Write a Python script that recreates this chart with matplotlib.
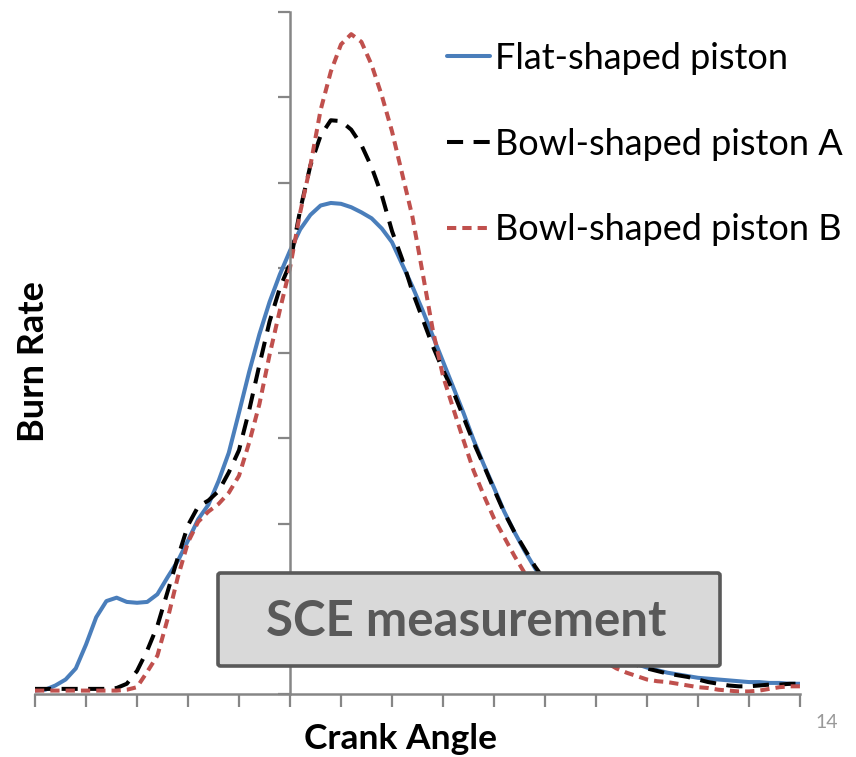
import matplotlib.pyplot as plt
from matplotlib.patches import FancyBboxPatch

# crank angle (deg) and burn rate (arbitrary units)
crank_angle = list(range(-25, 51))

flat_piston = [0.04, 0.05, 0.1, 0.17, 0.3, 0.58, 0.9, 1.09, 1.13, 1.08,
               1.07, 1.08, 1.17, 1.37, 1.56, 1.8, 2.05, 2.22, 2.5, 2.83,
               3.3, 3.78, 4.22, 4.6, 4.92, 5.2, 5.45, 5.62, 5.73, 5.76,
               5.75, 5.71, 5.65, 5.58, 5.46, 5.3, 5.04, 4.78, 4.5, 4.2,
               3.9, 3.6, 3.3, 2.98, 2.69, 2.42, 2.14, 1.9, 1.68, 1.48,
               1.3, 1.13, 0.98, 0.85, 0.73, 0.62, 0.53, 0.46, 0.4, 0.35,
               0.31, 0.28, 0.25, 0.23, 0.21, 0.19, 0.18, 0.17, 0.16, 0.15,
               0.14, 0.14, 0.13, 0.13, 0.12, 0.12]

bowl_piston_a = [0.06, 0.06, 0.06, 0.06, 0.06, 0.06, 0.06, 0.06, 0.07, 0.12,
                 0.27, 0.51, 0.8, 1.2, 1.6, 1.98, 2.2, 2.27, 2.38, 2.6,
                 2.86, 3.33, 3.86, 4.37, 4.76, 5.05, 5.68, 6.2, 6.55, 6.73,
                 6.72, 6.62, 6.44, 6.18, 5.85, 5.43, 5.1, 4.72, 4.4, 4.08,
                 3.8, 3.55, 3.25, 2.95, 2.68, 2.4, 2.13, 1.9, 1.7, 1.5,
                 1.33, 1.16, 1.0, 0.86, 0.73, 0.62, 0.53, 0.45, 0.39, 0.34,
                 0.3, 0.27, 0.24, 0.22, 0.2, 0.17, 0.14, 0.12, 0.1, 0.09,
                 0.09, 0.1, 0.11, 0.11, 0.12, 0.12]

bowl_piston_b = [0.04, 0.04, 0.04, 0.04, 0.04, 0.04, 0.04, 0.04, 0.04, 0.05,
                 0.08, 0.26, 0.45, 0.88, 1.37, 1.78, 2.02, 2.14, 2.23, 2.36,
                 2.56, 2.95, 3.4, 3.98, 4.5, 5.0, 5.65, 6.2, 6.85, 7.3,
                 7.62, 7.74, 7.65, 7.38, 7.02, 6.6, 6.1, 5.6, 4.94, 4.27,
                 3.73, 3.35, 2.98, 2.62, 2.33, 2.06, 1.84, 1.62, 1.42, 1.23,
                 1.06, 0.9, 0.77, 0.65, 0.54, 0.45, 0.37, 0.3, 0.25, 0.21,
                 0.17, 0.15, 0.14, 0.12, 0.1, 0.08, 0.07, 0.05, 0.04, 0.03,
                 0.03, 0.04, 0.06, 0.08, 0.09, 0.09]

W, H = 856, 757
fig = plt.figure(figsize=(W / 100, H / 100), dpi=100)
ax = fig.add_axes([35 / W, (H - 694) / H, 765 / W, 682 / H])

ax.plot(crank_angle, flat_piston, color='#4A7EBB', lw=2.9,
        solid_capstyle='round', solid_joinstyle='round', label='Flat-shaped piston')
ax.plot(crank_angle, bowl_piston_a, color='black', lw=2.9,
        dashes=(4.0, 2.6), dash_joinstyle='round', label='Bowl-shaped piston A')
ax.plot(crank_angle, bowl_piston_b, color='#C0504D', lw=2.9,
        dashes=(2.3, 1.5), dash_joinstyle='round', label='Bowl-shaped piston B')

ax.set_xlim(-25, 50)
ax.set_ylim(0, 8)
ax.set_xticks(range(-25, 51, 5))
ax.set_yticks(range(0, 9))
ax.set_xticklabels([])
ax.set_yticklabels([])

axis_grey = '#868686'
ax.spines['left'].set_position(('data', 0))
ax.spines['right'].set_visible(False)
ax.spines['top'].set_visible(False)
for s in ('left', 'bottom'):
    ax.spines[s].set_color(axis_grey)
    ax.spines[s].set_linewidth(1.8)
ax.tick_params(axis='both', direction='out', length=9, width=1.6, color=axis_grey)

leg = ax.legend(loc='upper left', bbox_to_anchor=(447 / W, 1 - 42 / H),
                bbox_transform=fig.transFigure, frameon=False,
                prop={'family': 'Lato', 'size': 26},
                handlelength=1.2, handletextpad=0.13, labelspacing=1.46,
                borderpad=0, borderaxespad=0)

# annotation box
box = FancyBboxPatch((218 / W, 1 - 666 / H), 502 / W, 93 / H,
                     boxstyle='round,pad=0,rounding_size=0.003',
                     transform=fig.transFigure, facecolor='#D9D9D9',
                     edgecolor='#595959', linewidth=2.6, zorder=5)
fig.patches.append(box)
fig.text(466 / W, 1 - 622 / H, 'SCE measurement', ha='center', va='center',
         family='Lato', weight='bold', size=35.5, color='#595959', zorder=6)

fig.text(400 / W, 1 - 739 / H, 'Crank Angle', ha='center', va='center',
         family='Lato', weight='bold', size=25.5)
fig.text(33 / W, 1 - 362 / H, 'Burn Rate', ha='center', va='center',
         rotation=90, family='Lato', weight='bold', size=26)
fig.text(827 / W, 1 - 722 / H, '14', ha='center', va='center',
         family='Lato', size=14, color='#999999')

plt.savefig('out.png', dpi=100)
